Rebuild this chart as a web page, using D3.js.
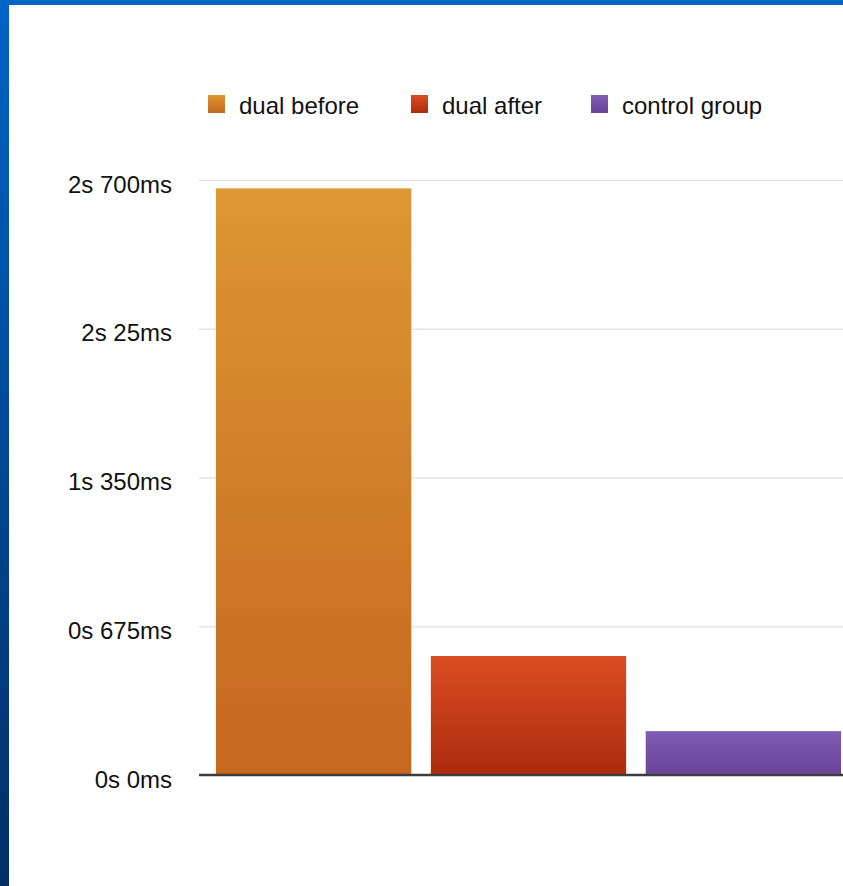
<!DOCTYPE html>
<html>
<head>
<meta charset="utf-8">
<script src="https://cdn.jsdelivr.net/npm/d3@7"></script>
<style>
  body { margin: 0; overflow: hidden; }
  text { font-family: "Liberation Sans", Arial, Helvetica, sans-serif; }
</style>
</head>
<body>
<div id="chart"></div>
<script>
// data (values in ms)
var categories = ["dual before", "dual after", "control group"];
var values = [2662, 540, 199];
var tickValues = [0, 675, 1350, 2025, 2700];
var tickLabels = ["0s 0ms", "0s 675ms", "1s 350ms", "2s 25ms", "2s 700ms"];
var topColors = ["#dd9733", "#d94d23", "#7e5db2"];
var bottomColors = ["#c5671f", "#ad2b0c", "#6a4398"];

var wdth = 843, hght = 886;

var svg = d3.select("#chart")
  .append("svg")
    .attr("width", wdth)
    .attr("height", hght);

var defs = svg.append("defs");

// blue desktop background behind the chart
var bg = defs.append("linearGradient")
    .attr("id", "bg")
    .attr("x1", 0).attr("y1", 0).attr("x2", 0).attr("y2", 1);
bg.append("stop").attr("offset", "0%").attr("stop-color", "#0063c6");
bg.append("stop").attr("offset", "100%").attr("stop-color", "#002f66");

categories.forEach(function(c, i){
  var g = defs.append("linearGradient")
      .attr("id", "grad" + i)
      .attr("x1", 0).attr("y1", 0).attr("x2", 0).attr("y2", 1);
  g.append("stop").attr("offset", "0%").attr("stop-color", topColors[i]);
  g.append("stop").attr("offset", "100%").attr("stop-color", bottomColors[i]);
});

svg.append("rect")
  .attr("width", wdth)
  .attr("height", hght)
  .attr("fill", "url(#bg)");

svg.append("rect")
  .attr("x", 9)
  .attr("y", 5)
  .attr("width", wdth - 9)
  .attr("height", hght - 5)
  .attr("fill", "#ffffff");

var plotLeft = 199, plotBottom = 775, plotTop = 180;

var y = d3.scaleLinear()
  .domain([0, 2700])
  .range([plotBottom, plotTop]);

// the chart is cut off on the right, so the band range runs past the window
var x = d3.scaleBand()
  .domain(categories)
  .range([plotLeft, 858])
  .paddingInner(0.091)
  .paddingOuter(0.079);

// gridlines
svg.append("g")
  .selectAll("line")
  .data(tickValues.slice(1))
  .enter()
  .append("line")
    .attr("x1", plotLeft)
    .attr("x2", wdth)
    .attr("y1", function(d){ return y(d) + 0.5 })
    .attr("y2", function(d){ return y(d) + 0.5 })
    .attr("stroke", "#e4e4e4")
    .attr("stroke-width", 1.5);

// y axis labels
var yAxis = svg.append("g")
  .attr("transform", "translate(" + (plotLeft - 27) + ",0)")
  .call(d3.axisLeft(y)
    .tickValues(tickValues)
    .tickSize(0)
    .tickPadding(0)
    .tickFormat(function(d, i){ return tickLabels[i] }));
yAxis.select(".domain").remove();
yAxis.selectAll("text")
  .attr("dy", "0.5em")
  .attr("fill", "#111")
  .style("font-family", "'Liberation Sans', Arial, sans-serif")
  .style("font-size", "24px");

// bars
svg.append("g")
  .selectAll("rect")
  .data(values)
  .enter()
  .append("rect")
    .attr("x", function(d, i){ return x(categories[i]) })
    .attr("y", function(d){ return y(d) })
    .attr("width", x.bandwidth())
    .attr("height", function(d){ return plotBottom - y(d) })
    .attr("fill", function(d, i){ return "url(#grad" + i + ")" });

// baseline
svg.append("line")
  .attr("x1", plotLeft)
  .attr("x2", wdth)
  .attr("y1", plotBottom)
  .attr("y2", plotBottom)
  .attr("stroke", "#3c3c3c")
  .attr("stroke-width", 2.5);

// legend
var legendX = [208, 411, 591];
var legend = svg.append("g")
  .selectAll("g")
  .data(categories)
  .enter()
  .append("g")
    .attr("transform", function(d, i){ return "translate(" + legendX[i] + ",95)" });

legend.append("rect")
  .attr("width", 17)
  .attr("height", 18)
  .attr("fill", function(d, i){ return "url(#grad" + i + ")" });

legend.append("text")
  .attr("x", 31)
  .attr("y", 19)
  .attr("fill", "#111")
  .style("font-size", "24px")
  .text(function(d){ return d });
</script>
</body>
</html>
